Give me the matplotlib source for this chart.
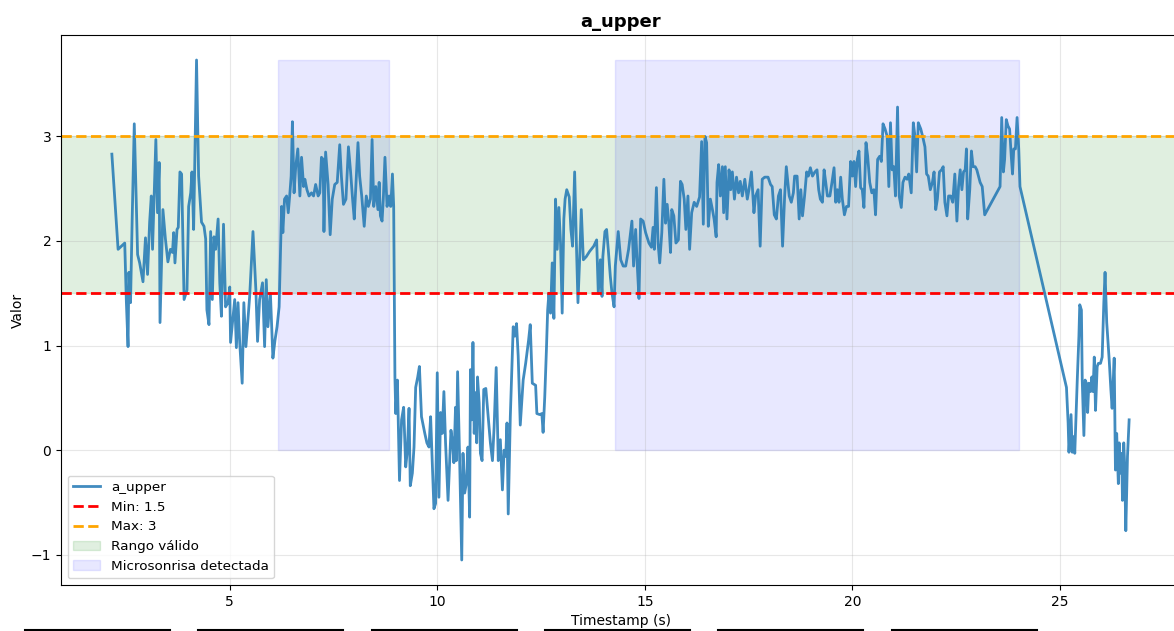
import matplotlib.pyplot as plt
from matplotlib.lines import Line2D

# Timestamps (s)
timestamps = [
    2.16, 2.31, 2.47, 2.51, 2.55, 2.57, 2.61, 2.65, 2.70, 2.78, 2.83, 2.91, 2.97, 3.02, 3.07, 3.11, 3.14, 3.18,
    3.22, 3.26, 3.30, 3.32, 3.39, 3.45, 3.51, 3.57, 3.62, 3.65, 3.68, 3.73, 3.76, 3.80, 3.84, 3.90, 3.97, 4.01,
    4.06, 4.09, 4.13, 4.20, 4.25, 4.32, 4.38, 4.42, 4.45, 4.50, 4.54, 4.58, 4.62, 4.66, 4.72, 4.76, 4.80, 4.85,
    4.90, 4.96, 5.00, 5.02, 5.08, 5.12, 5.16, 5.20, 5.24, 5.30, 5.34, 5.39, 5.42, 5.48, 5.56, 5.63, 5.67, 5.72,
    5.79, 5.84, 5.88, 5.92, 5.98, 6.04, 6.09, 6.14, 6.19, 6.25, 6.28, 6.32, 6.37, 6.41, 6.45, 6.48, 6.51, 6.55,
    6.59, 6.64, 6.69, 6.73, 6.78, 6.81, 6.86, 6.91, 6.97, 7.02, 7.07, 7.13, 7.17, 7.21, 7.25, 7.27, 7.31, 7.37,
    7.42, 7.47, 7.53, 7.59, 7.65, 7.69, 7.74, 7.80, 7.86, 7.91, 7.96, 8.00, 8.05, 8.09, 8.13, 8.18, 8.24, 8.29,
    8.34, 8.39, 8.43, 8.47, 8.52, 8.57, 8.60, 8.63, 8.67, 8.70, 8.74, 8.79, 8.84, 8.88, 8.92, 8.95, 8.98, 9.00,
    9.04, 9.09, 9.14, 9.19, 9.24, 9.28, 9.32, 9.35, 9.40, 9.44, 9.48, 9.53, 9.57, 9.62, 9.70, 9.75, 9.80, 9.84,
    9.88, 9.92, 9.96, 10.00, 10.04, 10.08, 10.12, 10.16, 10.20, 10.26, 10.33, 10.37, 10.40, 10.44, 10.46, 10.49,
    10.54, 10.59, 10.62, 10.66, 10.70, 10.74, 10.78, 10.80, 10.83, 10.86, 10.89, 10.92, 10.95, 10.97, 11.01, 11.04,
    11.08, 11.12, 11.17, 11.22, 11.28, 11.33, 11.37, 11.42, 11.47, 11.52, 11.57, 11.61, 11.65, 11.68, 11.71, 11.76,
    11.83, 11.87, 11.91, 11.95, 12.00, 12.07, 12.13, 12.20, 12.24, 12.29, 12.37, 12.40, 12.47, 12.52, 12.55, 12.59,
    12.63, 12.66, 12.69, 12.73, 12.77, 12.81, 12.85, 12.89, 12.93, 12.97, 13.01, 13.05, 13.08, 13.12, 13.18, 13.22,
    13.26, 13.31, 13.35, 13.39, 13.43, 13.47, 13.52, 13.59, 13.67, 13.77, 13.84, 13.88, 13.93, 13.97, 13.99, 14.04,
    14.08, 14.12, 14.17, 14.21, 14.26, 14.29, 14.36, 14.42, 14.48, 14.54, 14.61, 14.69, 14.73, 14.78, 14.82, 14.86,
    14.90, 14.96, 15.02, 15.10, 15.16, 15.20, 15.23, 15.28, 15.32, 15.36, 15.41, 15.46, 15.50, 15.54, 15.58, 15.62,
    15.65, 15.70, 15.75, 15.81, 15.86, 15.90, 15.95, 15.99, 16.04, 16.08, 16.13, 16.19, 16.25, 16.32, 16.37, 16.41,
    16.45, 16.49, 16.53, 16.58, 16.63, 16.67, 16.72, 16.74, 16.78, 16.82, 16.87, 16.90, 16.94, 16.98, 17.03, 17.07,
    17.11, 17.16, 17.21, 17.26, 17.30, 17.35, 17.41, 17.47, 17.51, 17.57, 17.63, 17.67, 17.73, 17.78, 17.83, 17.89,
    17.97, 18.03, 18.07, 18.12, 18.17, 18.22, 18.27, 18.32, 18.37, 18.41, 18.48, 18.53, 18.58, 18.61, 18.67, 18.72,
    18.76, 18.80, 18.85, 18.90, 18.94, 18.99, 19.04, 19.10, 19.15, 19.19, 19.23, 19.28, 19.32, 19.36, 19.40, 19.46,
    19.51, 19.56, 19.60, 19.64, 19.68, 19.72, 19.76, 19.81, 19.86, 19.91, 19.96, 20.00, 20.04, 20.08, 20.12, 20.16,
    20.20, 20.24, 20.28, 20.33, 20.37, 20.42, 20.47, 20.52, 20.56, 20.61, 20.66, 20.70, 20.74, 20.79, 20.84, 20.88,
    20.92, 20.96, 21.00, 21.04, 21.09, 21.13, 21.18, 21.22, 21.27, 21.32, 21.36, 21.42, 21.47, 21.51, 21.55, 21.59,
    21.65, 21.70, 21.75, 21.79, 21.83, 21.88, 21.93, 21.97, 22.01, 22.05, 22.10, 22.15, 22.19, 22.23, 22.28, 22.32,
    22.37, 22.42, 22.47, 22.52, 22.56, 22.60, 22.64, 22.68, 22.72, 22.75, 22.78, 22.83, 22.87, 22.91, 22.96, 23.00,
    23.04, 23.08, 23.13, 23.19, 23.56, 23.60, 23.64, 23.67, 23.71, 23.75, 23.79, 23.83, 23.86, 23.89, 23.93, 23.97,
    24.01, 24.04, 25.16, 25.20, 25.22, 25.27, 25.30, 25.34, 25.36, 25.42, 25.46, 25.48, 25.52, 25.54, 25.58, 25.61,
    25.64, 25.67, 25.70, 25.74, 25.77, 25.80, 25.83, 25.86, 25.90, 25.93, 25.98, 26.02, 26.06, 26.09, 26.13, 26.19,
    26.23, 26.26, 26.31, 26.34, 26.37, 26.41, 26.43, 26.46, 26.49, 26.51, 26.54, 26.56, 26.59, 26.63, 26.67,
]

# a_upper values
a_upper = [
    2.83, 1.92, 1.98, 1.41, 0.99, 1.70, 1.41, 2.22, 3.12, 1.87, 1.79, 1.61, 2.03, 1.68, 2.18, 2.43, 1.92, 2.43,
    2.97, 2.27, 2.75, 1.22, 2.30, 2.02, 1.80, 1.92, 1.89, 2.08, 1.79, 2.11, 2.13, 2.66, 2.64, 1.44, 1.53, 2.33,
    2.46, 2.66, 2.11, 3.73, 2.62, 2.18, 2.14, 2.02, 1.34, 1.20, 2.09, 1.44, 2.04, 1.92, 2.21, 1.60, 1.28, 2.16,
    1.37, 1.41, 1.56, 1.03, 1.28, 1.44, 0.98, 1.41, 1.03, 0.64, 1.41, 0.99, 1.15, 1.47, 2.09, 1.53, 1.04, 1.44,
    1.60, 0.99, 1.63, 1.18, 1.50, 0.88, 1.05, 1.18, 1.37, 2.33, 2.08, 2.40, 2.43, 2.27, 2.46, 2.62, 3.14, 2.46,
    2.71, 2.88, 2.43, 2.80, 2.52, 2.59, 2.49, 2.43, 2.46, 2.43, 2.54, 2.43, 2.46, 2.80, 2.78, 2.09, 2.85, 2.54,
    2.06, 2.40, 2.54, 2.56, 2.92, 2.62, 2.35, 2.40, 2.90, 2.67, 2.40, 2.21, 2.62, 2.94, 2.62, 2.43, 2.14, 2.43,
    2.33, 2.40, 2.97, 2.33, 2.52, 2.30, 2.56, 2.24, 2.19, 2.40, 2.80, 2.33, 2.43, 2.33, 2.64, 2.33, 0.70, 0.35,
    0.67, -0.29, 0.29, 0.41, -0.16, 0.00, 0.40, -0.34, -0.22, 0.03, 0.60, 0.70, 0.80, 0.32, 0.16, 0.07, 0.03, 0.32,
    -0.12, -0.56, -0.51, 0.74, -0.45, 0.36, 0.16, 0.56, 0.07, -0.48, 0.19, 0.07, -0.12, 0.41, -0.10, 0.75,
    -0.10, -1.05, -0.03, -0.41, -0.32, 0.03, -0.64, 0.77, 0.29, 1.03, 0.16, 0.55, 0.07, 0.70, 0.45, -0.03,
    -0.10, 0.58, 0.59, 0.35, 0.07, -0.10, 0.22, 0.79, -0.10, 0.10, -0.38, 0.00, -0.06, 0.26, -0.61, 0.32,
    1.18, 1.09, 1.21, 0.90, 0.24, 0.67, 0.83, 1.05, 1.20, 0.64, 0.62, 0.35, 0.34, 0.35, 0.17, 0.51,
    0.96, 1.34, 1.50, 1.31, 1.79, 1.26, 2.40, 1.92, 2.32, 1.98, 1.31, 2.21, 2.40, 2.49, 2.42, 2.11,
    1.95, 2.66, 2.01, 1.41, 1.82, 2.30, 1.82, 1.85, 1.90, 1.95, 2.01, 1.50, 1.82, 1.47, 1.85, 2.09,
    2.11, 1.92, 1.66, 1.50, 1.37, 1.76, 2.09, 1.82, 1.76, 1.76, 1.92, 2.19, 1.76, 2.11, 1.76, 1.45,
    2.21, 2.19, 2.08, 1.98, 1.94, 2.13, 1.92, 2.51, 1.98, 1.79, 2.08, 2.59, 2.17, 2.35, 2.17, 1.89,
    2.30, 2.24, 1.98, 2.01, 2.57, 2.54, 2.40, 2.11, 2.43, 1.92, 2.27, 2.37, 2.33, 2.42, 2.95, 2.16,
    3.00, 2.94, 2.14, 2.40, 2.30, 2.21, 2.04, 2.56, 2.73, 2.43, 2.71, 2.27, 2.71, 2.21, 2.68, 2.49,
    2.66, 2.40, 2.61, 2.46, 2.57, 2.43, 2.59, 2.40, 2.49, 2.66, 2.27, 2.43, 2.49, 1.95, 2.59, 2.61,
    2.61, 2.54, 2.52, 2.25, 2.21, 2.43, 2.49, 1.95, 2.43, 2.71, 2.43, 2.37, 2.46, 2.62, 2.62, 2.21,
    2.49, 2.24, 2.43, 2.66, 2.62, 2.70, 2.62, 2.66, 2.68, 2.49, 2.40, 2.37, 2.68, 2.56, 2.43, 2.43,
    2.56, 2.70, 2.37, 2.49, 2.37, 2.61, 2.40, 2.25, 2.33, 2.33, 2.76, 2.62, 2.76, 2.52, 2.78, 2.86,
    2.51, 2.49, 2.32, 2.94, 2.81, 2.56, 2.46, 2.49, 2.25, 2.78, 2.81, 2.76, 3.12, 3.07, 3.00, 2.52,
    3.13, 2.68, 2.71, 2.43, 3.28, 2.43, 2.32, 2.56, 2.61, 2.59, 2.64, 2.46, 3.13, 3.00, 2.66, 3.13,
    3.07, 2.99, 2.90, 2.64, 2.62, 2.49, 2.56, 2.66, 2.30, 2.40, 2.66, 2.68, 2.71, 2.37, 2.24, 2.43,
    2.43, 2.37, 2.64, 2.19, 2.52, 2.68, 2.49, 2.66, 2.68, 2.88, 2.21, 2.49, 2.86, 2.71, 2.71, 2.68,
    2.62, 2.56, 2.52, 2.25, 2.52, 3.18, 2.66, 2.78, 3.16, 3.10, 3.07, 2.81, 2.64, 2.88, 2.88, 3.18,
    2.88, 2.52, 0.60, 0.26, -0.02, 0.34, -0.02, 0.13, -0.03, 0.67, 1.09, 1.39, 1.34, 0.67, 0.14, 0.67,
    0.64, 0.36, 0.64, 0.56, 0.70, 0.56, 0.89, 0.38, 0.80, 0.83, 0.83, 0.89, 1.41, 1.70, 1.22, 0.86,
    0.58, 0.40, 0.88, -0.19, 0.16, -0.32, 0.07, -0.22, -0.03, -0.48, 0.07, -0.12, -0.77, -0.06, 0.29,
]

# Thresholds and detected micro-smile intervals
min_val = 1.5
max_val = 3
smile_starts = [6.16, 14.28]
smile_ends = [8.83, 24.01]

fig = plt.figure(figsize=(11.74, 6.31), dpi=100)
ax = fig.add_axes([61 / 1174, 46 / 631, 1119 / 1174, 550 / 631])

# Signal
ax.plot(timestamps, a_upper, color='#1f77b4', linewidth=2, alpha=0.85, label='a_upper')

# Threshold lines and valid band
ax.axhline(min_val, color='red', linestyle='--', linewidth=2, label=f'Min: {min_val}')
ax.axhline(max_val, color='orange', linestyle='--', linewidth=2, label=f'Max: {max_val}')
ax.axhspan(min_val, max_val, color='green', alpha=0.12, label='Rango válido')

# Detected intervals
top = max(a_upper)
for i, (s, e) in enumerate(zip(smile_starts, smile_ends)):
    ax.fill_between([s, e], 0, top, color='blue', alpha=0.09,
                    label='Microsonrisa detectada' if i == 0 else None)

ax.set_title('a_upper', fontsize=13, fontweight='bold')
ax.set_xlabel('Timestamp (s)')
ax.set_ylabel('Valor')
ax.grid(True, alpha=0.3)
ax.legend(loc='lower left', fontsize=9.7)

# Lines at the bottom edge of the cropped figure
for k in range(6):
    x0 = (25 + k * 173.3) / 1174
    fig.add_artist(Line2D([x0, x0 + 145 / 1174], [1.5 / 631, 1.5 / 631],
                          color='black', linewidth=1.5, transform=fig.transFigure))

plt.savefig('out.png', dpi=100)
